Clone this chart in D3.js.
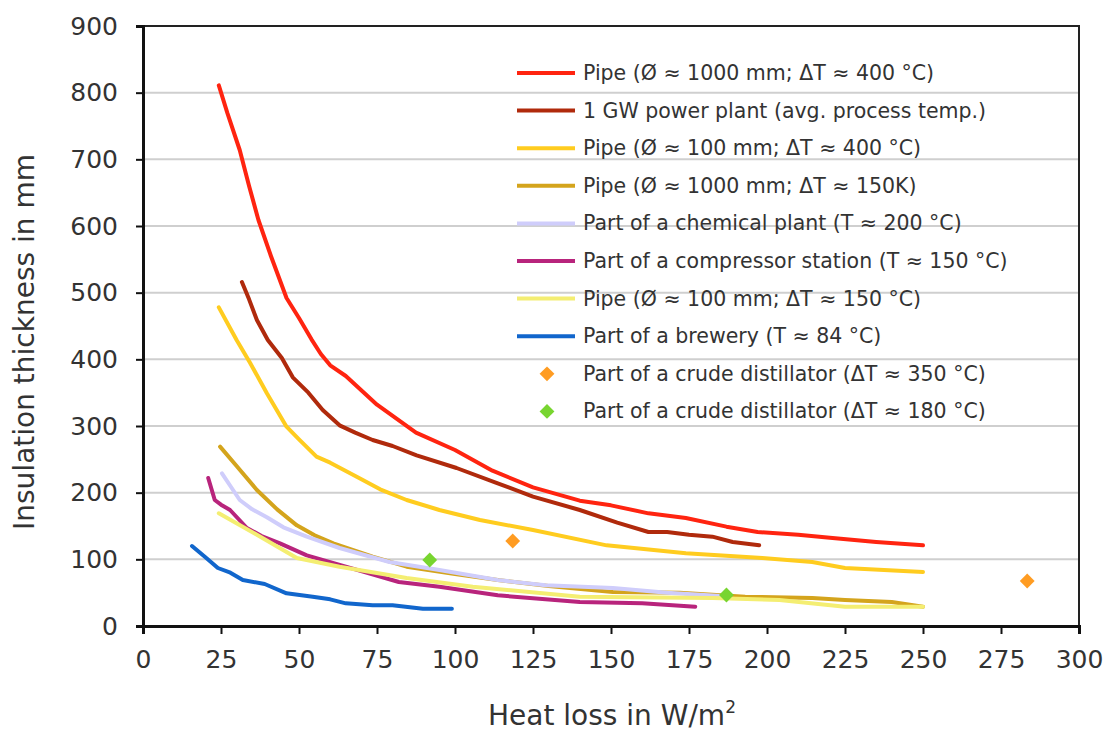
<!DOCTYPE html>
<html><head><meta charset="utf-8">
<script src="https://cdn.jsdelivr.net/npm/d3@7"></script>
<style>body{margin:0;background:#fff}svg{display:block}text{font-family:"DejaVu Sans",Verdana,sans-serif;fill:#333}</style>
</head><body><svg id="c" width="1111" height="731"></svg>
<script>
const xTicks=[0,25,50,75,100,125,150,175,200,225,250,275,300];
const yTicks=[0,100,200,300,400,500,600,700,800,900];
const seriesNames=["Pipe (Ø ≈ 1000 mm; ΔT ≈ 400 °C)","1 GW power plant (avg. process temp.)","Pipe (Ø ≈ 100 mm; ΔT ≈ 400 °C)","Pipe (Ø ≈ 1000 mm; ΔT ≈ 150K)","Part of a chemical plant (T ≈ 200 °C)","Part of a compressor station (T ≈ 150 °C)","Pipe (Ø ≈ 100 mm; ΔT ≈ 150 °C)","Part of a brewery (T ≈ 84 °C)","Part of a crude distillator (ΔT ≈ 350 °C)","Part of a crude distillator (ΔT ≈ 180 °C)"];
const seriesColors=["#ff2410","#b02a0c","#ffcc1f","#d4a41c","#cfcdfb","#b8247c","#f4ee72","#1166cc","#ff9c22","#78d530"];
const pipe1000_400_x=[24.3,27,31,34,37,41,46,50,54,57,60,65,75,87.5,100,112,125,140,150,162,174,187,197,210,221,235,250];
const pipe1000_400_y=[811,770,714,660,609,555,492,462,430,408,391,375,332,290,264,233,208,188,181,169,162,149,141,137,132,126,121];
const plant_x=[31.7,34,36.5,40,44.5,48,53,57.6,63,68,73.6,80,87.7,100.5,113.7,125,140,152,162,168,175,182.5,189,197.5];
const plant_y=[516,490,459,429,402,373,350,324,301,290,279,270,256,237,214,194,174,155,141,141,137,134,126,121];
const pipe100_400_x=[24.3,30,34.3,39.7,46,50,55.6,60,68.5,76,84.5,95,108,125,148.6,174,198.5,214.5,225,250];
const pipe100_400_y=[478,429,395,349,299,280,254,245,224,205,189,174,159,144,121,109,102,96,87,81];
const pipe1000_150_x=[24.7,30,36.5,43,49.3,55,61,73.6,84.5,100,113.7,130,150.6,172,193,214.5,225,240,250];
const pipe1000_150_y=[269,240,204,175,151,136,124,104,89,78,69,60,51,50,44,42,39,36,29];
const chem_x=[25.3,28,31,35,39.7,45,52.5,63,79,95,113.7,129,150.6,168,185];
const chem_y=[229,210,189,175,163,148,134,117,96,84,69,61,57,50,45];
const comp_x=[20.9,23,25,27.9,33.3,38,43.9,52.5,65,82,95,113.7,140,160,177];
const comp_y=[222,189,182,174,147,135,124,106,89,66,59,46,36,34,29];
const pipe100_150_x=[24.3,36.5,49.3,63,84.5,105.7,140,182.5,204,225,250];
const pipe100_150_y=[169,137,102,89,72,59,44,42,39,29,29];
const brew_x=[15.7,20,24,28,32,39,46,54.4,60,65,73.6,80,89.7,99];
const brew_y=[120,103,87,80,69,63,49,44,40,34,31,31,26,26];
const crude350_x=[118.5,283.4];
const crude350_y=[127.5,67.5];
const crude180_x=[91.9,187];
const crude180_y=[99,46.5];

const lineSeries=[[pipe1000_400_x,pipe1000_400_y],[plant_x,plant_y],[pipe100_400_x,pipe100_400_y],[pipe1000_150_x,pipe1000_150_y],[chem_x,chem_y],[comp_x,comp_y],[pipe100_150_x,pipe100_150_y],[brew_x,brew_y]];
const pointSeries=[[crude350_x,crude350_y],[crude180_x,crude180_y]];

const svg=d3.select("#c");
const x=d3.scaleLinear().domain([0,300]).range([143,1079]);
const y=d3.scaleLinear().domain([0,900]).range([626,26]);

svg.append("g").selectAll("line").data(yTicks.slice(1)).join("line")
  .attr("x1",x(0)).attr("x2",x(300)).attr("y1",d=>y(d)).attr("y2",d=>y(d))
  .attr("stroke","#cfcfcf").attr("stroke-width",2);

svg.append("rect").attr("x",x(0)).attr("y",y(900)).attr("width",x(300)-x(0)).attr("height",y(0)-y(900))
  .attr("fill","none").attr("stroke","#222").attr("stroke-width",2);

const line=d3.line().x(d=>x(d[0])).y(d=>y(d[1])).curve(d3.curveLinear);
lineSeries.forEach((s,i)=>{
  const pts=s[0].map((v,j)=>[v,s[1][j]]);
  svg.append("path").datum(pts).attr("d",line).attr("fill","none")
    .attr("stroke",seriesColors[i]).attr("stroke-width",4).attr("stroke-linejoin","round").attr("stroke-linecap","round");
});
const diamond=d3.symbol().type(d3.symbolDiamond2).size(140);
pointSeries.forEach((s,i)=>{
  svg.append("g").selectAll("path").data(s[0].map((v,j)=>[v,s[1][j]])).join("path")
    .attr("d",diamond).attr("transform",d=>`translate(${x(d[0])},${y(d[1])})`).attr("fill",seriesColors[8+i]);
});

const xAxis=svg.append("g").attr("transform",`translate(0,${y(0)})`)
  .call(d3.axisBottom(x).tickValues(xTicks).tickSize(8).tickPadding(16).tickFormat(d3.format("d")));
const yAxis=svg.append("g").attr("transform",`translate(${x(0)},0)`)
  .call(d3.axisLeft(y).tickValues(yTicks).tickSize(7).tickPadding(18).tickFormat(d3.format("d")));
[xAxis,yAxis].forEach(a=>{
  a.select(".domain").attr("stroke","#111").attr("stroke-width",3);
  a.selectAll(".tick line").attr("stroke","#111").attr("stroke-width",2);
  a.selectAll(".tick text").attr("font-size",25).attr("fill","#333").attr("font-family","DejaVu Sans, sans-serif");
});

const xt=svg.append("text").attr("x",612).attr("y",725).attr("text-anchor","middle").attr("font-size",28);
xt.append("tspan").text("Heat loss in W/m");
xt.append("tspan").text("2").attr("font-size",17).attr("dy",-12);
svg.append("text").attr("transform","translate(34,342) rotate(-90)").attr("text-anchor","middle").attr("font-size",28).text("Insulation thickness in mm");

const lg=svg.append("g");
seriesNames.forEach((n,i)=>{
  const ly=73+i*37.6;
  if(i<8){
    lg.append("line").attr("x1",517).attr("x2",575).attr("y1",ly).attr("y2",ly).attr("stroke",seriesColors[i]).attr("stroke-width",4);
  } else {
    lg.append("path").attr("d",diamond).attr("transform",`translate(547,${ly})`).attr("fill",seriesColors[i]);
  }
  lg.append("text").attr("x",583).attr("y",ly+7).attr("font-size",20.5).text(n);
});
</script></body></html>
